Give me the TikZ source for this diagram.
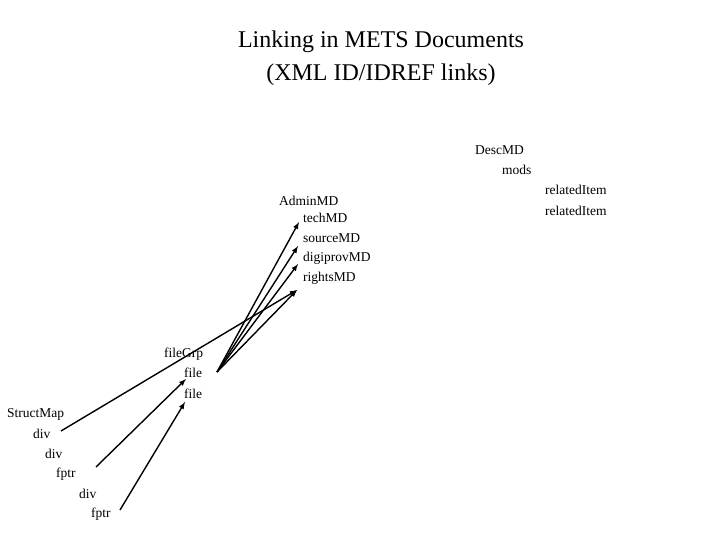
\documentclass[tikz,border=0pt]{standalone}
\usepackage{fontspec}
\setmainfont{Liberation Serif}
\begin{document}
\begin{tikzpicture}[x=1pt,y=-1pt,
 lbl/.style={anchor=west,inner sep=0pt,font=\fontsize{13.5}{14}\selectfont},
 ttl/.style={inner sep=0pt,font=\fontsize{24}{26}\selectfont},
 arr/.style={-latex,line width=1.4pt}]
\useasboundingbox (0,0) rectangle (720,540);
\node[ttl] (t1) at (381,42) {Linking in METS Documents};
\node[ttl] (t2) at (381,75) {(XML ID/IDREF links)};
\node[lbl] (desc) at (475,150) {DescMD};
\node[lbl] (mods) at (502,170) {mods};
\node[lbl] (ri1) at (545,190) {relatedItem};
\node[lbl] (ri2) at (545,211) {relatedItem};
\node[lbl] (adm) at (279,201) {AdminMD};
\node[lbl] (tech) at (303,218) {techMD};
\node[lbl] (src) at (303,238) {sourceMD};
\node[lbl] (dig) at (303,258) {digiprovMD};
\node[lbl] (rts) at (303,278) {rightsMD};
\node[lbl] (fg) at (164,354) {fileGrp};
\node[lbl] (f1) at (184,373) {file};
\node[lbl] (f2) at (184,394) {file};
\node[lbl] (sm) at (7,414) {StructMap};
\node[lbl] (d1) at (33,434) {div};
\node[lbl] (d2) at (45,454) {div};
\node[lbl] (p1) at (56,474) {fptr};
\node[lbl] (d3) at (79,494) {div};
\node[lbl] (p2) at (91,514) {fptr};
\coordinate (fo) at (217,372);
\coordinate (hT) at (299,222);
\coordinate (hS) at (298,246);
\coordinate (hD) at (298,264);
\coordinate (hR) at (297,290);
\coordinate (dS) at (61,431);
\coordinate (pS1) at (96,467);
\coordinate (pS2) at (120,510);
\coordinate (hF1) at (186,379);
\coordinate (hF2) at (185,402);
\draw[arr] (fo) -- (hT);
\draw[arr] (fo) -- (hS);
\draw[arr] (fo) -- (hD);
\draw[arr] (fo) -- (hR);
\draw[arr] (dS) -- (hR);
\draw[arr] (pS1) -- (hF1);
\draw[arr] (pS2) -- (hF2);
\end{tikzpicture}
\end{document}
